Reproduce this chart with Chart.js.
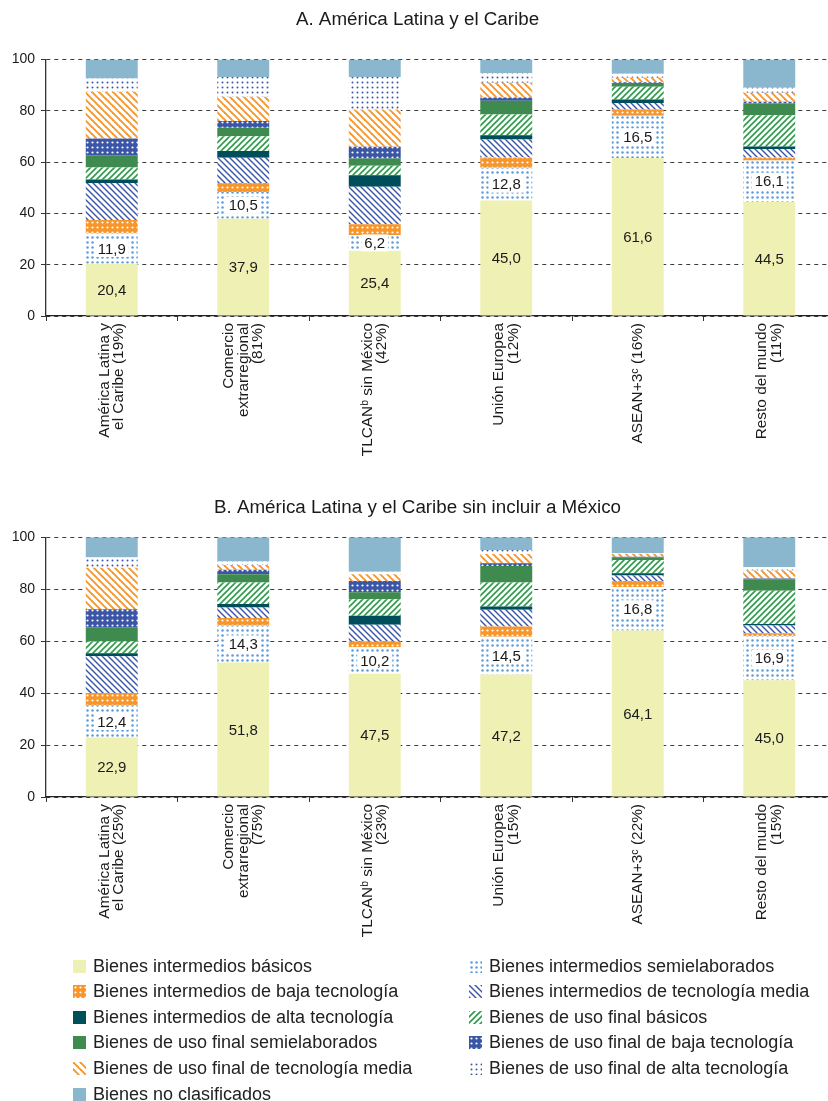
<!DOCTYPE html>
<html><head><meta charset="utf-8">
<script src="https://cdn.jsdelivr.net/npm/chart.js@4.4.0/dist/chart.umd.min.js"></script>
<style>
html,body{margin:0;padding:0;background:#fff;}
#wrap{position:relative;width:828px;height:1101px;overflow:hidden;background:#fff;font-family:"Liberation Sans",Arial,sans-serif;}
#cA{position:absolute;left:0;top:0;}
#cB{position:absolute;left:0;top:488px;}
#legend{position:absolute;left:0;top:0;width:828px;height:1101px;pointer-events:none;}
.li{position:absolute;height:26px;display:flex;align-items:center;font-size:18px;color:#222;white-space:nowrap;}
.li canvas{width:13px;height:13px;margin-right:7px;display:block;}
</style></head>
<body><div id="wrap">
<canvas id="cA" width="836" height="466"></canvas>
<canvas id="cB" width="836" height="459"></canvas>
<div id="legend"></div>
</div>
<script>
// ---------- Data ----------
const titleA = "A. América Latina y el Caribe";
const titleB = "B. América Latina y el Caribe sin incluir a México";

const categoriesA = [["América Latina y","el Caribe (19%)"],["Comercio","extrarregional","(81%)"],["TLCANᵇ sin México","(42%)"],["Unión Europea","(12%)"],["ASEAN+3ᶜ (16%)"],["Resto del mundo","(11%)"]];
const categoriesB = [["América Latina y","el Caribe (25%)"],["Comercio","extrarregional","(75%)"],["TLCANᵇ sin México","(23%)"],["Unión Europea","(15%)"],["ASEAN+3ᶜ (22%)"],["Resto del mundo","(15%)"]];

const seriesNames = [
  "Bienes intermedios básicos",
  "Bienes intermedios semielaborados",
  "Bienes intermedios de baja tecnología",
  "Bienes intermedios de tecnología media",
  "Bienes intermedios de alta tecnología",
  "Bienes de uso final básicos",
  "Bienes de uso final semielaborados",
  "Bienes de uso final de baja tecnología",
  "Bienes de uso final de tecnología media",
  "Bienes de uso final de alta tecnología",
  "Bienes no clasificados"
];

const yTicks = [0, 20, 40, 60, 80, 100];

// Panel A
const A_intBasicos   = [20.4, 37.9, 25.4, 45.0, 61.6, 44.5];
const A_intSemielab  = [11.9, 10.5,  6.2, 12.8, 16.5, 16.1];
const A_intBaja      = [ 5.1,  3.5,  4.2,  4.0,  2.4,  1.2];
const A_intMedia     = [14.5,  9.8, 14.6,  7.0,  2.6,  3.3];
const A_intAlta      = [ 1.3,  2.6,  4.5,  1.7,  1.3,  1.0];
const A_finBasicos   = [ 4.7,  5.8,  3.7,  8.1,  5.0, 12.2];
const A_finSemielab  = [ 4.8,  3.3,  2.8,  5.3,  1.5,  4.6];
const A_finBaja      = [ 6.5,  2.6,  4.6,  1.3,  0.3,  0.6];
const A_finMedia     = [18.2,  9.5, 14.5,  5.8,  1.7,  3.6];
const A_finAlta      = [ 5.2,  7.7, 12.7,  3.8,  1.6,  1.9];
const A_noClas       = [ 7.4,  6.8,  6.8,  5.2,  5.5, 11.0];

// Panel B
const B_intBasicos   = [22.9, 51.8, 47.5, 47.2, 64.1, 45.0];
const B_intSemielab  = [12.4, 14.3, 10.2, 14.5, 16.8, 16.9];
const B_intBaja      = [ 4.8,  2.8,  2.2,  4.0,  2.3,  1.2];
const B_intMedia     = [14.1,  4.1,  6.4,  6.4,  2.1,  3.0];
const B_intAlta      = [ 1.2,  1.3,  3.5,  1.3,  0.9,  0.5];
const B_finBasicos   = [ 4.5,  8.3,  6.4,  9.2,  5.1, 12.8];
const B_finSemielab  = [ 5.5,  3.2,  2.7,  6.4,  1.0,  4.5];
const B_finBaja      = [ 6.9,  1.7,  4.3,  1.0,  0.2,  0.3];
const B_finMedia     = [16.0,  1.9,  2.6,  3.6,  1.2,  3.0];
const B_finAlta      = [ 3.9,  1.3,  1.0,  1.5,  0.3,  1.3];
const B_noClas       = [ 7.8,  9.3, 13.2,  4.9,  6.0, 11.5];

const seriesA = [A_intBasicos, A_intSemielab, A_intBaja, A_intMedia, A_intAlta, A_finBasicos, A_finSemielab, A_finBaja, A_finMedia, A_finAlta, A_noClas];
const seriesB = [B_intBasicos, B_intSemielab, B_intBaja, B_intMedia, B_intAlta, B_finBasicos, B_finSemielab, B_finBaja, B_finMedia, B_finAlta, B_noClas];

// ---------- Styles ----------
const FONT = '"Liberation Sans", Arial, Helvetica, sans-serif';

function makePattern(spec) {
  const s = spec.size || 6;
  const c = document.createElement('canvas');
  c.width = s; c.height = s;
  const g = c.getContext('2d');
  g.fillStyle = spec.bg; g.fillRect(0, 0, s, s);
  g.fillStyle = spec.fg; g.strokeStyle = spec.fg;
  if (spec.type === 'dots') {
    g.beginPath(); g.arc(s / 2, s / 2, spec.r, 0, Math.PI * 2); g.fill();
  } else if (spec.type === 'back' || spec.type === 'fwd') {
    g.lineWidth = spec.lw; g.lineCap = 'square';
    for (const k of [-s, 0, s]) {
      g.beginPath();
      if (spec.type === 'back') { g.moveTo(k, 0); g.lineTo(k + s, s); }
      else { g.moveTo(k, s); g.lineTo(k + s, 0); }
      g.stroke();
    }
  }
  return c;
}

const ORANGE = '#f7962a', BLUE = '#3b56a6', GREEN = '#2f9a4b';
const fillSpecs = [
  { solid: '#eff1b4' },
  { type: 'dots', fg: '#5f9cd8', bg: '#ffffff', size: 5, r: 1.25 },
  { type: 'dots', fg: '#ffffff', bg: ORANGE, size: 5, r: 1.1 },
  { type: 'back', fg: BLUE, bg: '#ffffff', size: 6, lw: 1.4 },
  { solid: '#004e5b' },
  { type: 'fwd', fg: GREEN, bg: '#ffffff', size: 6, lw: 1.6 },
  { solid: '#3e8a4f' },
  { type: 'dots', fg: '#ffffff', bg: BLUE, size: 5, r: 1.1 },
  { type: 'back', fg: ORANGE, bg: '#ffffff', size: 7, lw: 1.9 },
  { type: 'dots', fg: BLUE, bg: '#ffffff', size: 5, r: 1.0 },
  { solid: '#8ab7cd' }
];
const tileCanvases = fillSpecs.map(f => f.solid ? null : makePattern(f));
function fillFor(ctx, i) {
  if (fillSpecs[i].solid) return fillSpecs[i].solid;
  return ctx.createPattern(tileCanvases[i], 'repeat');
}

// ---------- Plugins ----------
const valueLabels = {
  id: 'valueLabels',
  afterDatasetsDraw(chart) {
    const ctx = chart.ctx;
    ctx.save();
    ctx.font = '15px ' + FONT;
    ctx.textAlign = 'center';
    ctx.textBaseline = 'middle';
    [0, 1].forEach(di => {
      const meta = chart.getDatasetMeta(di);
      const ds = chart.data.datasets[di];
      meta.data.forEach((el, i) => {
        const txt = ds.data[i].toFixed(1).replace('.', ',');
        const p = el.getProps(['x', 'y', 'base'], true);
        const cy = (p.y + p.base) / 2;
        if (di === 1) {
          const w = ctx.measureText(txt).width + 6;
          ctx.fillStyle = '#ffffff';
          ctx.fillRect(p.x - w / 2, cy - 8.5, w, 17);
        }
        ctx.fillStyle = '#1a1a1a';
        ctx.fillText(txt, p.x, cy + 1);
      });
    });
    ctx.restore();
  }
};

const xLabels = {
  id: 'xLabels',
  afterDraw(chart) {
    const xs = chart.scales.x;
    const ctx = chart.ctx;
    const lh = 14.6;
    ctx.save();
    ctx.font = '15.4px ' + FONT;
    ctx.fillStyle = '#1a1a1a';
    ctx.textAlign = 'right';
    ctx.textBaseline = 'middle';
    chart.data.labels.forEach((lab, i) => {
      const lines = Array.isArray(lab) ? lab : [lab];
      const cx = xs.getPixelForTick(i);
      lines.forEach((ln, j) => {
        const x = cx + (j - (lines.length - 1) / 2) * lh;
        ctx.save();
        ctx.translate(x, xs.top + 7);
        ctx.rotate(-Math.PI / 2);
        ctx.fillText(ln, 0, 0);
        ctx.restore();
      });
    });
    ctx.restore();
  }
};

function buildChart(canvasId, title, labels, series, titlePad) {
  const canvas = document.getElementById(canvasId);
  const ctx = canvas.getContext('2d');
  const datasets = series.map((arr, i) => ({
    label: seriesNames[i],
    data: arr,
    backgroundColor: fillFor(ctx, i),
    borderWidth: 0,
    barPercentage: 0.395,
    categoryPercentage: 1.0
  }));
  return new Chart(ctx, {
    type: 'bar',
    data: { labels: labels, datasets: datasets },
    options: {
      responsive: false,
      animation: false,
      devicePixelRatio: 1,
      layout: { padding: { left: 0, right: 1, top: 0, bottom: 0 } },
      plugins: {
        legend: { display: false },
        tooltip: { enabled: false },
        title: {
          display: true, text: title, color: '#1a1a1a',
          font: { family: FONT, size: 18.8, weight: 'normal' },
          padding: titlePad
        }
      },
      scales: {
        x: {
          stacked: true,
          grid: { offset: true, drawOnChartArea: false, drawTicks: true, tickLength: 5, color: '#333', lineWidth: 1 },
          border: { display: true, color: '#222', width: 1.2 },
          ticks: { display: false },
          afterFit(scale) { scale.height = 150; }
        },
        y: {
          stacked: true,
          min: 0, max: 100,
          afterBuildTicks(scale) { scale.ticks = yTicks.map(v => ({ value: v })); },
          grid: {
            color: '#3a3a3a', lineWidth: 1,
            drawTicks: true, tickLength: 5, tickColor: '#333', tickBorderDash: [], tickWidth: 1
          },
          border: { display: true, color: '#333', width: 1.3, dash: [4, 4] },
          ticks: { color: '#1a1a1a', font: { family: FONT, size: 14 }, padding: 6 },
          afterFit(scale) { scale.width = 46; }
        }
      }
    },
    plugins: [valueLabels, xLabels]
  });
}

buildChart('cA', titleA, categoriesA, seriesA, { top: 9, bottom: 28 });
buildChart('cB', titleB, categoriesB, seriesB, { top: 9, bottom: 17.8 });

// ---------- Legend ----------
const legend = document.getElementById('legend');
seriesNames.forEach((name, i) => {
  const col = i % 2, row = Math.floor(i / 2);
  const item = document.createElement('div');
  item.className = 'li';
  item.style.left = (col === 0 ? 73 : 469) + 'px';
  item.style.top = (966 + row * 25.6 - 13) + 'px';
  const sw = document.createElement('canvas');
  sw.width = 13; sw.height = 13;
  const g = sw.getContext('2d');
  g.fillStyle = fillFor(g, i);
  g.fillRect(0, 0, 13, 13);
  const span = document.createElement('span');
  span.textContent = name;
  item.appendChild(sw); item.appendChild(span);
  legend.appendChild(item);
});
</script>
</body></html>
